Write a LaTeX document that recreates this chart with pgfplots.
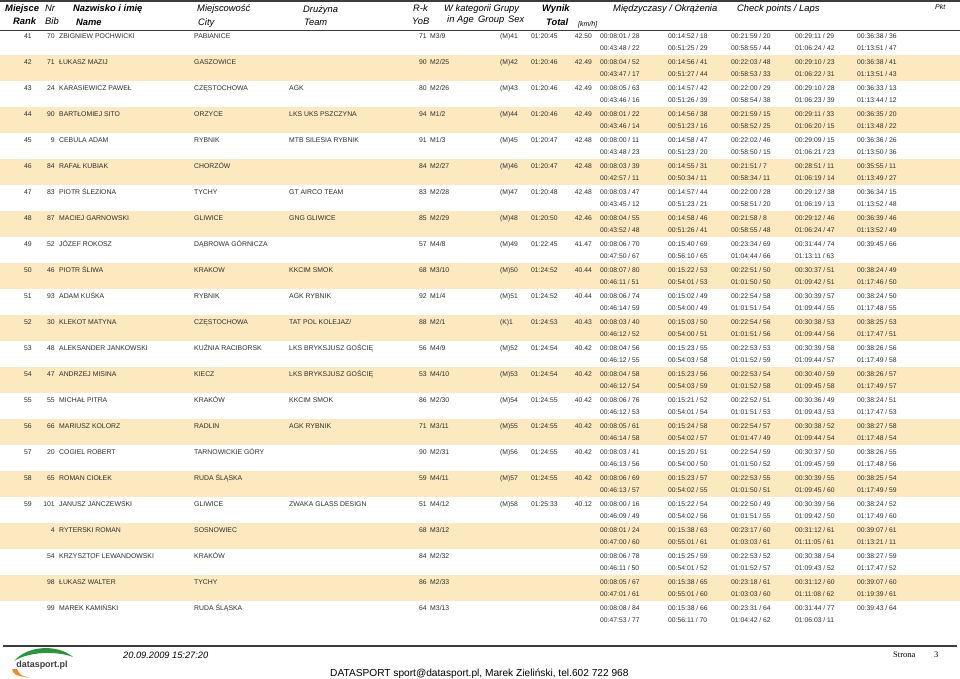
\documentclass[border=0pt]{standalone}
\usepackage{pgfplots}
\pgfplotsset{compat=1.18}
\usepackage{fontspec}
\setmainfont{Liberation Sans}
\newfontfamily\seriffont{Liberation Serif}

\definecolor{band}{RGB}{252,233,192}
\definecolor{txt}{RGB}{45,45,45}
\definecolor{rule}{RGB}{60,60,60}
\definecolor{logogreen}{RGB}{40,150,60}
\definecolor{logoorange}{RGB}{240,140,40}

\tikzset{
  dt/.style={inner sep=0pt, text=txt, font=\fontsize{6.9}{7}\selectfont},
  tm/.style={inner sep=0pt, text=txt, font=\fontsize{6.8}{7}\selectfont},
  hd/.style={inner sep=0pt, anchor=base west, font=\fontsize{9.4}{10}\selectfont\itshape},
  hb/.style={inner sep=0pt, anchor=base west, font=\fontsize{9.4}{10}\selectfont\bfseries\itshape},
}

% row k: first line baseline 38.5+26k, second line 50+26k
\newcommand{\person}[8]{%
  \node[dt,anchor=base east] at (axis cs:32,{38.5+26*#1}) {#2};
  \node[dt,anchor=base east] at (axis cs:55,{38.5+26*#1}) {#3};
  \node[dt,anchor=base west] at (axis cs:59,{38.5+26*#1}) {#4};
  \node[dt,anchor=base west] at (axis cs:194,{38.5+26*#1}) {#5};
  \node[dt,anchor=base west] at (axis cs:289,{38.5+26*#1}) {#6};
  \node[dt,anchor=base east] at (axis cs:427,{38.5+26*#1}) {#7};
  \node[dt,anchor=base west] at (axis cs:430,{38.5+26*#1}) {#8};
}
\newcommand{\result}[4]{%
  \node[tm,anchor=base west] at (axis cs:500,{38.5+26*#1}) {#2};
  \node[tm,anchor=base west] at (axis cs:531,{38.5+26*#1}) {#3};
  \node[tm,anchor=base east] at (axis cs:592,{38.5+26*#1}) {#4};
}
\newcommand{\splitsA}[6]{%
  \node[tm,anchor=base west] at (axis cs:600,{38.5+26*#1}) {#2};
  \node[tm,anchor=base west] at (axis cs:668,{38.5+26*#1}) {#3};
  \node[tm,anchor=base west] at (axis cs:731,{38.5+26*#1}) {#4};
  \node[tm,anchor=base west] at (axis cs:795,{38.5+26*#1}) {#5};
  \node[tm,anchor=base west] at (axis cs:857,{38.5+26*#1}) {#6};
}
\newcommand{\splitsB}[6]{%
  \node[tm,anchor=base west] at (axis cs:600,{50+26*#1}) {#2};
  \node[tm,anchor=base west] at (axis cs:668,{50+26*#1}) {#3};
  \node[tm,anchor=base west] at (axis cs:731,{50+26*#1}) {#4};
  \node[tm,anchor=base west] at (axis cs:795,{50+26*#1}) {#5};
  \node[tm,anchor=base west] at (axis cs:857,{50+26*#1}) {#6};
}

\begin{document}
\begin{tikzpicture}
\begin{axis}[
    width=960bp, height=678bp, scale only axis,
    xmin=0, xmax=960, ymin=0, ymax=678,
    y dir=reverse, hide axis, clip=false,
    anchor=north west, at={(0,0)}
]
\coordinate (TL) at (axis cs:0,0);
\coordinate (BR) at (axis cs:960,678);

% shaded bands (every second competitor)
\pgfplotsinvokeforeach{1,3,5,7,9,11,13,15,17,19,21}{
  \fill[band] (axis cs:0,{29+26*#1}) rectangle (axis cs:960,{55+26*#1});
}

% rules
\draw[rule, line width=2pt] (axis cs:0,1) -- (axis cs:960,1);
\draw[rule, line width=0.9pt] (axis cs:0,30) -- (axis cs:960,30);
\draw[rule, line width=1.3pt] (axis cs:3,646) -- (axis cs:957,646);

% header
\node[hb] at (axis cs:5,11.5) {Miejsce};
\node[hb] at (axis cs:13,24.5) {Rank};
\node[hd] at (axis cs:45,11.5) {Nr};
\node[hd] at (axis cs:45,24.5) {Bib};
\node[hb] at (axis cs:73,11.5) {Nazwisko i imię};
\node[hb] at (axis cs:76,25) {Name};
\node[hd] at (axis cs:197,11.5) {Miejscowość};
\node[hd] at (axis cs:198,25) {City};
\node[hd] at (axis cs:303,12.5) {Drużyna};
\node[hd] at (axis cs:304,25.5) {Team};
\node[hd] at (axis cs:413,11.5) {R-k};
\node[hd] at (axis cs:412,24.5) {YoB};
\node[hd] at (axis cs:444,11.5) {W kategorii Grupy};
\node[hd] at (axis cs:447,22.5) {in Age};
\node[hd] at (axis cs:478,22.5) {Group};
\node[hd] at (axis cs:508,22.5) {Sex};
\node[hb] at (axis cs:542,11.5) {Wynik};
\node[hb] at (axis cs:546,25) {Total};
\node[hd,font=\fontsize{7}{8}\selectfont\itshape] at (axis cs:578,26) {[km/h]};
\node[hd] at (axis cs:613,11.5) {Międzyczasy / Okrążenia};
\node[hd] at (axis cs:737,11.5) {Check points / Laps};
\node[hd,font=\fontsize{7}{8}\selectfont\itshape] at (axis cs:935,9) {Pkt};

% competitors
\person{0}{41}{70}{ZBIGNIEW POCHWICKI}{PABIANICE}{}{71}{M3/9}
\result{0}{(M)41}{01:20:45}{42.50}
\splitsA{0}{00:08:01 / 28}{00:14:52 / 18}{00:21:59 / 20}{00:29:11 / 29}{00:36:38 / 36}
\splitsB{0}{00:43:48 / 22}{00:51:25 / 29}{00:58:55 / 44}{01:06:24 / 42}{01:13:51 / 47}

\person{1}{42}{71}{ŁUKASZ MAZIJ}{GASZOWICE}{}{90}{M2/25}
\result{1}{(M)42}{01:20:46}{42.49}
\splitsA{1}{00:08:04 / 52}{00:14:56 / 41}{00:22:03 / 48}{00:29:10 / 23}{00:36:38 / 41}
\splitsB{1}{00:43:47 / 17}{00:51:27 / 44}{00:58:53 / 33}{01:06:22 / 31}{01:13:51 / 43}

\person{2}{43}{24}{KARASIEWICZ PAWEŁ}{CZĘSTOCHOWA}{AGK}{80}{M2/26}
\result{2}{(M)43}{01:20:46}{42.49}
\splitsA{2}{00:08:05 / 63}{00:14:57 / 42}{00:22:00 / 29}{00:29:10 / 28}{00:36:33 / 13}
\splitsB{2}{00:43:46 / 16}{00:51:26 / 39}{00:58:54 / 38}{01:06:23 / 39}{01:13:44 / 12}

\person{3}{44}{90}{BARTŁOMIEJ SITO}{ORZYCE}{LKS UKS PSZCZYNA}{94}{M1/2}
\result{3}{(M)44}{01:20:46}{42.49}
\splitsA{3}{00:08:01 / 22}{00:14:56 / 38}{00:21:59 / 15}{00:29:11 / 33}{00:36:35 / 20}
\splitsB{3}{00:43:46 / 14}{00:51:23 / 16}{00:58:52 / 25}{01:06:20 / 15}{01:13:48 / 22}

\person{4}{45}{9}{CEBULA ADAM}{RYBNIK}{MTB SILESIA RYBNIK}{91}{M1/3}
\result{4}{(M)45}{01:20:47}{42.48}
\splitsA{4}{00:08:00 / 11}{00:14:58 / 47}{00:22:02 / 46}{00:29:09 / 15}{00:36:36 / 26}
\splitsB{4}{00:43:48 / 23}{00:51:23 / 20}{00:58:50 / 15}{01:06:21 / 23}{01:13:50 / 36}

\person{5}{46}{84}{RAFAŁ KUBIAK}{CHORZÓW}{}{84}{M2/27}
\result{5}{(M)46}{01:20:47}{42.48}
\splitsA{5}{00:08:03 / 39}{00:14:55 / 31}{00:21:51 / 7}{00:28:51 / 11}{00:35:55 / 11}
\splitsB{5}{00:42:57 / 11}{00:50:34 / 11}{00:58:34 / 11}{01:06:19 / 14}{01:13:49 / 27}

\person{6}{47}{83}{PIOTR ŚLEZIONA}{TYCHY}{GT AIRCO TEAM}{83}{M2/28}
\result{6}{(M)47}{01:20:48}{42.48}
\splitsA{6}{00:08:03 / 47}{00:14:57 / 44}{00:22:00 / 28}{00:29:12 / 38}{00:36:34 / 15}
\splitsB{6}{00:43:45 / 12}{00:51:23 / 21}{00:58:51 / 20}{01:06:19 / 13}{01:13:52 / 48}

\person{7}{48}{87}{MACIEJ GARNOWSKI}{GLIWICE}{GNG GLIWICE}{85}{M2/29}
\result{7}{(M)48}{01:20:50}{42.46}
\splitsA{7}{00:08:04 / 55}{00:14:58 / 46}{00:21:58 / 8}{00:29:12 / 46}{00:36:39 / 46}
\splitsB{7}{00:43:52 / 48}{00:51:26 / 41}{00:58:55 / 48}{01:06:24 / 47}{01:13:52 / 49}

\person{8}{49}{52}{JÓZEF ROKOSZ}{DĄBROWA GÓRNICZA}{}{57}{M4/8}
\result{8}{(M)49}{01:22:45}{41.47}
\splitsA{8}{00:08:06 / 70}{00:15:40 / 69}{00:23:34 / 69}{00:31:44 / 74}{00:39:45 / 66}
\splitsB{8}{00:47:50 / 67}{00:56:10 / 65}{01:04:44 / 66}{01:13:11 / 63}{}

\person{9}{50}{46}{PIOTR ŚLIWA}{KRAKOW}{KKCIM SMOK}{68}{M3/10}
\result{9}{(M)50}{01:24:52}{40.44}
\splitsA{9}{00:08:07 / 80}{00:15:22 / 53}{00:22:51 / 50}{00:30:37 / 51}{00:38:24 / 49}
\splitsB{9}{00:46:11 / 51}{00:54:01 / 53}{01:01:50 / 50}{01:09:42 / 51}{01:17:46 / 50}

\person{10}{51}{93}{ADAM KUŚKA}{RYBNIK}{AGK RYBNIK}{92}{M1/4}
\result{10}{(M)51}{01:24:52}{40.44}
\splitsA{10}{00:08:06 / 74}{00:15:02 / 49}{00:22:54 / 58}{00:30:39 / 57}{00:38:24 / 50}
\splitsB{10}{00:46:14 / 59}{00:54:00 / 49}{01:01:51 / 54}{01:09:44 / 55}{01:17:48 / 55}

\person{11}{52}{30}{KLEKOT MATYNA}{CZĘSTOCHOWA}{TAT POL KOLEJAZ/}{88}{M2/1}
\result{11}{(K)1}{01:24:53}{40.43}
\splitsA{11}{00:08:03 / 40}{00:15:03 / 50}{00:22:54 / 56}{00:30:38 / 53}{00:38:25 / 53}
\splitsB{11}{00:46:12 / 52}{00:54:00 / 51}{01:01:51 / 56}{01:09:44 / 56}{01:17:47 / 51}

\person{12}{53}{48}{ALEKSANDER JANKOWSKI}{KUŹNIA RACIBORSK}{LKS BRYKSJUSZ GOŚCIĘ}{56}{M4/9}
\result{12}{(M)52}{01:24:54}{40.42}
\splitsA{12}{00:08:04 / 56}{00:15:23 / 55}{00:22:53 / 53}{00:30:39 / 58}{00:38:26 / 56}
\splitsB{12}{00:46:12 / 55}{00:54:03 / 58}{01:01:52 / 59}{01:09:44 / 57}{01:17:49 / 58}

\person{13}{54}{47}{ANDRZEJ MISINA}{KIECZ}{LKS BRYKSJUSZ GOŚCIĘ}{53}{M4/10}
\result{13}{(M)53}{01:24:54}{40.42}
\splitsA{13}{00:08:04 / 58}{00:15:23 / 56}{00:22:53 / 54}{00:30:40 / 59}{00:38:26 / 57}
\splitsB{13}{00:46:12 / 54}{00:54:03 / 59}{01:01:52 / 58}{01:09:45 / 58}{01:17:49 / 57}

\person{14}{55}{55}{MICHAŁ PITRA}{KRAKÓW}{KKCIM SMOK}{86}{M2/30}
\result{14}{(M)54}{01:24:55}{40.42}
\splitsA{14}{00:08:06 / 76}{00:15:21 / 52}{00:22:52 / 51}{00:30:36 / 49}{00:38:24 / 51}
\splitsB{14}{00:46:12 / 53}{00:54:01 / 54}{01:01:51 / 53}{01:09:43 / 53}{01:17:47 / 53}

\person{15}{56}{66}{MARIUSZ KOLORZ}{RADLIN}{AGK RYBNIK}{71}{M3/11}
\result{15}{(M)55}{01:24:55}{40.42}
\splitsA{15}{00:08:05 / 61}{00:15:24 / 58}{00:22:54 / 57}{00:30:38 / 52}{00:38:27 / 58}
\splitsB{15}{00:46:14 / 58}{00:54:02 / 57}{01:01:47 / 49}{01:09:44 / 54}{01:17:48 / 54}

\person{16}{57}{20}{COGIEL ROBERT}{TARNOWICKIE GÓRY}{}{90}{M2/31}
\result{16}{(M)56}{01:24:55}{40.42}
\splitsA{16}{00:08:03 / 41}{00:15:20 / 51}{00:22:54 / 59}{00:30:37 / 50}{00:38:26 / 55}
\splitsB{16}{00:46:13 / 56}{00:54:00 / 50}{01:01:50 / 52}{01:09:45 / 59}{01:17:48 / 56}

\person{17}{58}{65}{ROMAN CIOŁEK}{RUDA ŚLĄSKA}{}{59}{M4/11}
\result{17}{(M)57}{01:24:55}{40.42}
\splitsA{17}{00:08:06 / 69}{00:15:23 / 57}{00:22:53 / 55}{00:30:39 / 55}{00:38:25 / 54}
\splitsB{17}{00:46:13 / 57}{00:54:02 / 55}{01:01:50 / 51}{01:09:45 / 60}{01:17:49 / 59}

\person{18}{59}{101}{JANUSZ JANCZEWSKI}{GLIWICE}{ZWAKA GLASS DESIGN}{51}{M4/12}
\result{18}{(M)58}{01:25:33}{40.12}
\splitsA{18}{00:08:00 / 16}{00:15:22 / 54}{00:22:50 / 49}{00:30:39 / 56}{00:38:24 / 52}
\splitsB{18}{00:46:09 / 49}{00:54:02 / 56}{01:01:51 / 55}{01:09:42 / 50}{01:17:49 / 60}

\person{19}{}{4}{RYTERSKI ROMAN}{SOSNOWIEC}{}{68}{M3/12}
\splitsA{19}{00:08:01 / 24}{00:15:38 / 63}{00:23:17 / 60}{00:31:12 / 61}{00:39:07 / 61}
\splitsB{19}{00:47:00 / 60}{00:55:01 / 61}{01:03:03 / 61}{01:11:05 / 61}{01:13:21 / 11}

\person{20}{}{54}{KRZYSZTOF LEWANDOWSKI}{KRAKÓW}{}{84}{M2/32}
\splitsA{20}{00:08:06 / 78}{00:15:25 / 59}{00:22:53 / 52}{00:30:38 / 54}{00:38:27 / 59}
\splitsB{20}{00:46:11 / 50}{00:54:01 / 52}{01:01:52 / 57}{01:09:43 / 52}{01:17:47 / 52}

\person{21}{}{98}{ŁUKASZ WALTER}{TYCHY}{}{86}{M2/33}
\splitsA{21}{00:08:05 / 67}{00:15:38 / 65}{00:23:18 / 61}{00:31:12 / 60}{00:39:07 / 60}
\splitsB{21}{00:47:01 / 61}{00:55:01 / 60}{01:03:03 / 60}{01:11:08 / 62}{01:19:39 / 61}

\person{22}{}{99}{MAREK KAMIŃSKI}{RUDA ŚLĄSKA}{}{64}{M3/13}
\splitsA{22}{00:08:08 / 84}{00:15:38 / 66}{00:23:31 / 64}{00:31:44 / 77}{00:39:43 / 64}
\splitsB{22}{00:47:53 / 77}{00:56:11 / 70}{01:04:42 / 62}{01:06:03 / 11}{}

% footer logo
\fill[logogreen] (axis cs:14,661) .. controls (axis cs:28,645) and (axis cs:58,644) .. (axis cs:73,657)
   .. controls (axis cs:58,651) and (axis cs:30,651) .. cycle;
\fill[logoorange] (axis cs:12,669) .. controls (axis cs:14,675) .. (axis cs:30,678)
   .. controls (axis cs:20,675) .. (axis cs:17,669) -- cycle;
\node[inner sep=0pt, anchor=base, text=rule, font=\fontsize{9}{9}\selectfont\bfseries] at (axis cs:42,667) {datasport.pl};

% footer text
\node[inner sep=0pt, anchor=base west, text=black, font=\fontsize{9.3}{10}\selectfont\itshape] at (axis cs:123,658.5) {20.09.2009 15:27:20};
\node[inner sep=0pt, anchor=base west, text=black, font=\fontsize{10.2}{11}\selectfont] at (axis cs:330,676.5) {DATASPORT sport@datasport.pl, Marek Zieliński, tel.602 722 968};
\node[inner sep=0pt, anchor=base west, text=black, font=\fontsize{8.5}{9}\selectfont\seriffont] at (axis cs:893,657.5) {Strona};
\node[inner sep=0pt, anchor=base west, text=black, font=\fontsize{8.5}{9}\selectfont\seriffont] at (axis cs:934,657.5) {3};
\end{axis}
\pgfresetboundingbox
\useasboundingbox (TL) rectangle (BR);
\end{tikzpicture}
\end{document}
